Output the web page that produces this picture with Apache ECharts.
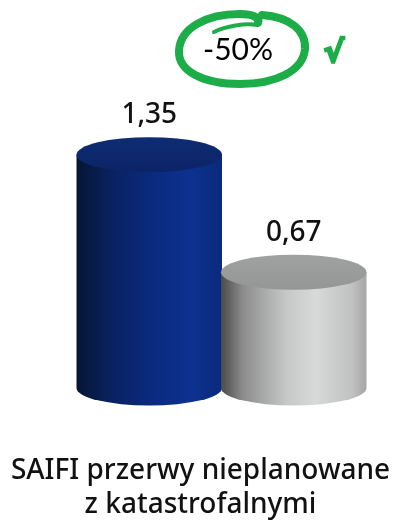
<!DOCTYPE html>
<html>
<head>
<meta charset="utf-8">
<script src="https://cdn.jsdelivr.net/npm/echarts@6/dist/echarts.min.js"></script>
<style>
html,body{margin:0;padding:0;background:#fff;}
#chart{width:401px;height:522px;}
</style>
</head>
<body>
<div id="chart"></div>
<script>
// ---- data ----
const categories = ['2019', '2023'];
const values = [1.35, 0.67];
const valueLabels = ['1,35', '0,67'];
const chartTitle = 'SAIFI przerwy nieplanowane\nz katastrofalnymi';
const changeLabel = '-50%';
const checkMark = '√';

// ---- styles ----
const sideStops = [
  [
    {offset: 0, color: '#051633'},
    {offset: 0.25, color: '#0a2262'},
    {offset: 0.55, color: '#0b2b82'},
    {offset: 0.8, color: '#0c318f'},
    {offset: 1, color: '#0a2a7c'}
  ],
  [
    {offset: 0, color: '#4a4a4a'},
    {offset: 0.15, color: '#8c8c8c'},
    {offset: 0.45, color: '#c6c8c8'},
    {offset: 0.65, color: '#d8dada'},
    {offset: 0.9, color: '#c0c1c1'},
    {offset: 1, color: '#a6a6a6'}
  ]
];
const topStops = [
  [
    {offset: 0, color: '#0e2c74'},
    {offset: 1, color: '#0b2466'}
  ],
  [
    {offset: 0, color: '#a0a1a1'},
    {offset: 1, color: '#949595'}
  ]
];
const RY = 17.5;
const GREEN = '#1cad48';
const FONT = 'Noto Sans';

const chart = echarts.init(document.getElementById('chart'), null, {renderer: 'canvas'});

function renderCylinder(params, api) {
  const idx = params.dataIndex;
  const x = api.value(0);
  const v = api.value(1);
  const top = api.coord([x, v]);
  const base = api.coord([x, 0]);
  const w = api.size([1, 0])[0];
  const rx = w / 2 + 0.5;
  const cx = top[0];
  const l = cx - rx, r = cx + rx;
  const sidePath = 'M' + l + ' ' + top[1] + ' L' + l + ' ' + base[1] +
    ' A' + rx + ' ' + RY + ' 0 0 0 ' + r + ' ' + base[1] +
    ' L' + r + ' ' + top[1] + ' Z';
  const topPath = 'M' + l + ' ' + top[1] +
    ' A' + rx + ' ' + RY + ' 0 1 1 ' + r + ' ' + top[1] +
    ' A' + rx + ' ' + RY + ' 0 1 1 ' + l + ' ' + top[1] + ' Z';
  return {
    type: 'group',
    children: [
      {
        type: 'path',
        shape: {pathData: sidePath},
        style: {fill: new echarts.graphic.LinearGradient(0, 0, 1, 0, sideStops[idx])}
      },
      {
        type: 'path',
        shape: {pathData: topPath},
        style: {fill: new echarts.graphic.LinearGradient(0, 0, 0, 1, topStops[idx])}
      },
      {
        type: 'text',
        style: {
          text: valueLabels[idx],
          x: cx,
          y: top[1] - RY - 8,
          align: 'center',
          verticalAlign: 'bottom',
          fontSize: 28,
          fontWeight: 500,
          fontFamily: FONT,
          fill: '#111'
        }
      }
    ]
  };
}

function renderAnnotation(params, api) {
  return {
    type: 'group',
    children: [
      {
        type: 'path',
        shape: {pathData: 'M262 15 C291 17 306 31 305 49 C303 71 276 84 240 84 C203 84 178 71 179 51 C180 28 206 14 240 14 C252 14 260 17 258 23'},
        style: {stroke: GREEN, lineWidth: 8, fill: 'none', lineCap: 'round'}
      },
      {
        type: 'path',
        shape: {pathData: 'M257 25 C245 23 226 26 214 32'},
        style: {stroke: GREEN, lineWidth: 4, fill: 'none', lineCap: 'round'}
      },
      {
        type: 'text',
        style: {
          text: changeLabel, x: 238, y: 50, align: 'center', verticalAlign: 'middle',
          fontSize: 30, fontFamily: 'Lato', fill: '#000'
        }
      },
      {
        type: 'text',
        style: {
          text: checkMark, x: 334, y: 54, align: 'center', verticalAlign: 'middle',
          fontSize: 30, fontWeight: 'bold', fontFamily: 'DejaVu Sans', fill: GREEN,
          stroke: GREEN, lineWidth: 2.5
        }
      }
    ]
  };
}

const option = {
  animation: false,
  backgroundColor: '#fff',
  title: {
    text: chartTitle,
    left: 'center',
    top: 449,
    textStyle: {fontSize: 28, lineHeight: 34, fontWeight: 500, color: '#111', fontFamily: FONT}
  },
  grid: {left: 77, width: 289, top: 128.8, height: 259.2},
  xAxis: {type: 'category', data: categories, show: false},
  yAxis: {type: 'value', min: 0, max: 1.5, show: false},
  series: [
    {
      type: 'custom',
      renderItem: renderCylinder,
      data: values.map((v, i) => [i, v]),
      clip: false,
      silent: true
    },
    {
      type: 'custom',
      renderItem: renderAnnotation,
      data: [[0, 0]],
      clip: false,
      silent: true
    }
  ]
};
chart.setOption(option);
</script>
</body>
</html>
